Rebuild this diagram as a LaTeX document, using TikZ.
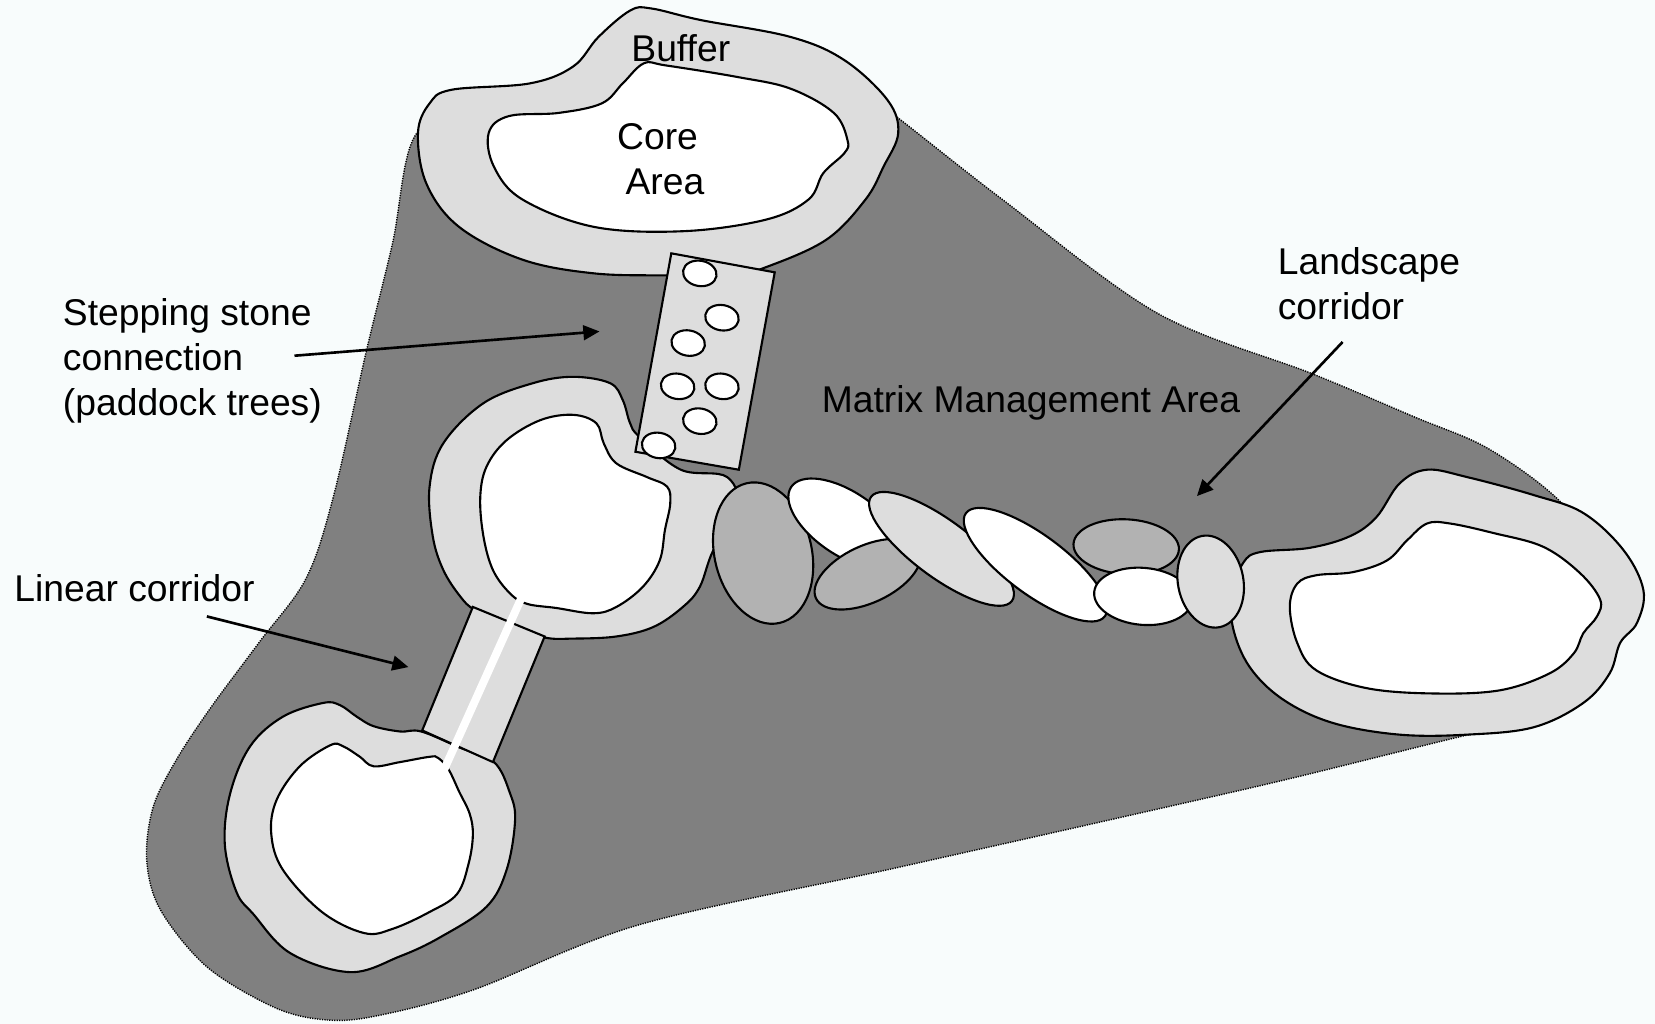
\documentclass[tikz,border=0pt]{standalone}
\usepackage{fontspec}
\setmainfont{Liberation Sans}
\usepackage{tikz}
\usepackage{xcolor}
\usetikzlibrary{arrows.meta,positioning}
\definecolor{paper}{HTML}{F8FCFC}
\definecolor{matrixgrey}{HTML}{808080}
\definecolor{buffergrey}{HTML}{DDDDDD}
\definecolor{patchgrey}{HTML}{B2B2B2}

\begin{document}
\begin{tikzpicture}[x=0.10555mm, y=-0.10555mm,
    matrixarea/.style={fill=matrixgrey, draw=black, line width=0.4pt, dash pattern=on 0.35pt off 0.35pt},
    buffer/.style={fill=buffergrey, draw=black, line width=0.6pt},
    core/.style={fill=white, draw=black, line width=0.6pt},
    darkpatch/.style={fill=patchgrey, draw=black, line width=0.6pt},
    lightpatch/.style={fill=buffergrey, draw=black, line width=0.6pt},
    areatext/.style={font=\fontsize{10.6pt}{12.8pt}\selectfont, inner sep=0pt},
    pointer/.style={-{Triangle[length=4.6pt, width=4.2pt]}, line width=0.75pt}]

    \useasboundingbox (0,0) rectangle (1568,970);
    \fill[paper] (0,0) rectangle (1568,970);

    % Matrix management area
    \draw[matrixarea] plot[smooth cycle, tension=0.55] coordinates {
        (393,129) (450,100) (600,60) (780,60) (846,108) (951,190) (1097,297)
        (1243,354) (1340,395) (1410,425) (1478,475) (1520,535) (1512,622)
        (1455,682) (1383,698) (1225,737) (1099,766) (850,822) (606,876)
        (448,938) (354,963) (306,966) (259,954) (196,916) (152,862) (139,815)
        (145,765) (167,720) (200,670) (246,608) (290,548) (316,470) (347,333)
        (372,230)};

    % Top patch
    \draw[buffer] plot[smooth cycle, tension=0.6] coordinates {
        (597,10) (567,35) (543,63) (502,79) (428,85) (407,98) (396,126)
        (404,174) (435,215) (495,246) (563,259) (634,261) (690,262) (726,253)
        (783,227) (820,189) (837,158) (851,126) (841,95) (800,57) (749,35)
        (664,19) (617,8)};
    \draw[core] plot[smooth cycle, tension=0.6] coordinates {
        (610,60) (590,79) (570,98) (529,107) (482,110) (463,126) (468,158)
        (495,189) (563,215) (648,219) (726,208) (766,189) (780,164) (800,145)
        (803,133) (790,107) (749,84) (699,73) (631,62)};

    % Middle patch
    \draw[buffer] plot[smooth cycle, tension=0.6] coordinates {
        (436,565) (420,540) (410,508) (407,461) (420,420) (458,382) (505,363)
        (543,357) (578,363) (590,379) (597,401) (606,414) (645,445) (689,452)
        (700,485) (676,521) (663,556) (647,575) (619,594) (584,603) (543,605)
        (516,604) (482,593) (450,578)};
    \draw[core] plot[smooth cycle, tension=0.6] coordinates {
        (455,471) (461,442) (480,417) (512,398) (543,393) (565,401) (572,420)
        (584,439) (613,452) (632,461) (635,477) (630,502) (625,531) (609,556)
        (584,575) (562,581) (527,576) (499,572) (483,562) (467,540) (458,508)};

    % Bottom patch
    \draw[buffer] plot[smooth cycle, tension=0.6] coordinates {
        (399,693) (379,693) (354,688) (338,679) (322,668) (306,666) (268,679)
        (237,707) (218,752) (213,800) (224,845) (240,866) (275,903) (332,921)
        (379,906) (417,888) (461,859) (480,824) (488,777) (483,751) (468,722)
        (435,708)};
    \draw[core] plot[smooth cycle, tension=0.6] coordinates {
        (415,718) (407,717) (379,722) (354,726) (341,717) (325,707) (313,706)
        (284,726) (262,758) (257,790) (268,824) (305,864) (345,884) (372,880)
        (407,864) (433,847) (444,818) (448,791) (445,771) (435,750) (425,729)};

    % Right patch
    \draw[buffer] plot[smooth cycle, tension=0.6] coordinates {
        (1178,533) (1194,523) (1241,519) (1279,508) (1304,490) (1326,458)
        (1352,445) (1390,452) (1453,469) (1500,486) (1538,521) (1557,559)
        (1551,590) (1535,609) (1525,638) (1500,666) (1453,689) (1390,696)
        (1326,696) (1263,685) (1216,663) (1184,632) (1168,594) (1168,560)};
    \draw[core] plot[smooth cycle, tension=0.6] coordinates {
        (1222,575) (1229,553) (1247,545) (1282,542) (1314,531) (1333,512)
        (1352,496) (1374,496) (1415,505) (1462,518) (1497,543) (1516,568)
        (1513,584) (1500,600) (1491,619) (1468,638) (1421,654) (1358,657)
        (1295,652) (1247,635) (1229,609)};

    % Linear corridor
    \draw[lightpatch] (448,575) -- (516,603) -- (467,722) -- (400,692) -- cycle;
    \draw[white, line width=0.8mm] (496,562) -- (419,733);

    % Stepping stones
    \draw[lightpatch] (636,240) -- (734,258) -- (700,445) -- (602,428) -- cycle;
    \foreach \sx/\sy in {663/259, 684/301, 652/325, 642/366, 684/366, 663/399, 624/422}
        \draw[core, rotate around={-10:(\sx,\sy)}] (\sx,\sy) ellipse (16 and 12);

    % Landscape corridor
    \draw[darkpatch, rotate around={-76.5:(723,524)}] (723,524) ellipse (68 and 46);
    \draw[core, rotate around={-34:(801,496)}] (801,496) ellipse (62 and 30);
    \draw[darkpatch, rotate around={25:(822,544)}] (822,544) ellipse (54 and 27);
    \draw[lightpatch, rotate around={-36.5:(892,520)}] (892,520) ellipse (83 and 27);
    \draw[core, rotate around={-36.6:(981,535)}] (981,535) ellipse (82 and 28);
    \draw[darkpatch, rotate around={-3:(1067,518)}] (1067,518) ellipse (50 and 26);
    \draw[core, rotate around={-5:(1083,565)}] (1083,565) ellipse (46.5 and 27);
    \draw[lightpatch, rotate around={-79:(1147,551)}] (1147,551) ellipse (44 and 31);

    % Labels
    \node[areatext, anchor=base] (buffer label) at (645,58) {Buffer};
    \node[areatext, align=center] (core label) at (623,151) {Core\\\hspace*{4.2pt}Area};
    \node[areatext, align=left, anchor=west] (stone label) at (59,342)
        {Stepping stone\\connection\\(paddock trees)};
    \node[areatext, anchor=west] (linear label) at (13,557) {Linear corridor};
    \node[areatext, align=left, anchor=west] (landscape label) at (1210,269)
        {Landscape\\corridor};
    \node[areatext, anchor=base west] (matrix label) at (778,391) {Matrix Management Area};

    % Pointers
    \coordinate (stone tail) at (279,337);
    \coordinate (stone tip) at (568,314);
    \coordinate (linear tail) at (196,584);
    \coordinate (linear tip) at (387,632);
    \coordinate (landscape tail) at (1272,324);
    \coordinate (landscape tip) at (1134,470);
    \draw[pointer] (stone tail) -- (stone tip);
    \draw[pointer] (linear tail) -- (linear tip);
    \draw[pointer] (landscape tail) -- (landscape tip);

\end{tikzpicture}
\end{document}
